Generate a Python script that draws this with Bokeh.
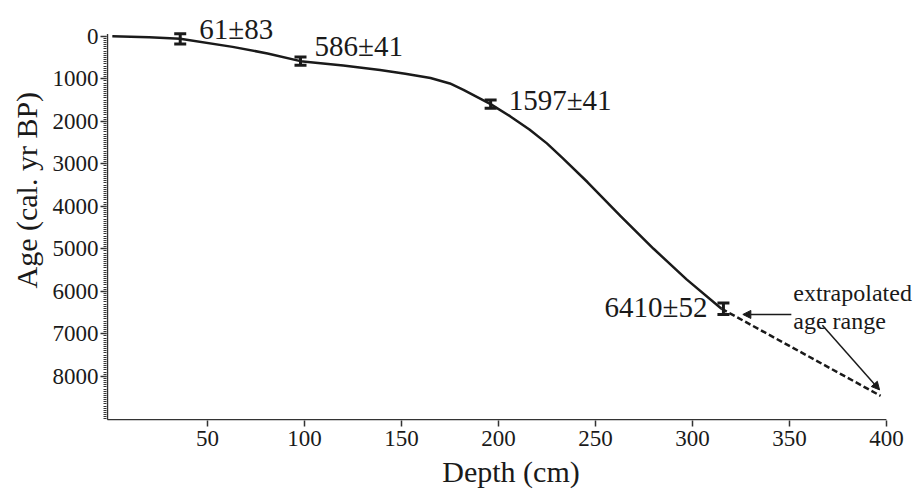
import numpy as np
from bokeh.plotting import figure
from bokeh.models import (Range1d, FixedTicker, ColumnDataSource, Whisker, TeeHead,
                          Label, Arrow, NormalHead, Title)
from bokeh.embed import file_html
from bokeh.resources import INLINE

# ---- data ----
curve_depth = [1, 20, 36, 63, 81, 98, 120, 139, 152, 165, 175, 182, 196, 206, 216, 225, 233, 246, 263, 280, 297, 315]
curve_age = [0, 25, 61, 250, 404, 586, 690, 794, 880, 981, 1110, 1262, 1597, 1880, 2196, 2520, 2860, 3435, 4229, 5000, 5720, 6410]

dated_depth = [36, 98, 196, 316]
dated_age = [61, 586, 1597, 6410]
dated_err_drawn = [120, 95, 95, 135]
dated_labels = ["61\u00b183", "586\u00b141", "1597\u00b141", "6410\u00b152"]

extrap_depth = [315, 397]
extrap_age = [6410, 8460]

x_ticks = [50, 100, 150, 200, 250, 300, 350, 400]
y_ticks = [0, 1000, 2000, 3000, 4000, 5000, 6000, 7000, 8000]

FONT = "Liberation Serif"
INK = "#1a1a1a"
AXC = "#333333"

p = figure(width=916, height=490, output_backend="svg", toolbar_location=None,
           x_range=Range1d(-2, 415), y_range=Range1d(9040, -841),
           min_border_left=106, min_border_right=1, min_border_top=0, min_border_bottom=67)
p.outline_line_color = None
p.grid.visible = False
p.background_fill_color = "white"
p.border_fill_color = "white"

# axes (built-in ticks/labels; axis lines drawn as segments below)
p.xaxis.ticker = FixedTicker(ticks=x_ticks)
p.yaxis.ticker = FixedTicker(ticks=y_ticks, minor_ticks=list(np.arange(0, 9001, 50)))
for ax in (p.xaxis, p.yaxis):
    ax.axis_line_color = None
    ax.major_tick_line_color = AXC
    ax.major_tick_line_width = 1.5
    ax.major_tick_out = 6
    ax.major_tick_in = 0
    ax.major_label_text_font = FONT
    ax.major_label_text_font_size = "23px"
    ax.major_label_text_color = INK
    ax.axis_label_text_font = FONT
    ax.axis_label_text_font_style = "normal"
    ax.axis_label_text_font_size = "30px"
    ax.axis_label_text_color = INK
p.xaxis.minor_tick_line_color = None
p.yaxis.minor_tick_line_color = AXC
p.yaxis.minor_tick_out = 3
p.yaxis.minor_tick_in = 0
p.xaxis.major_label_standoff = 4
p.yaxis.major_label_standoff = 2
p.xaxis.axis_label = "Depth (cm)"
p.xaxis.axis_label_standoff = 6

p.add_layout(Title(text="Age (cal. yr BP)", align="left", offset=132,
                   text_font=FONT, text_font_size="30px", text_font_style="normal",
                   text_color=INK, standoff=14), "left")

# axis lines
p.segment(x0=[-1.5, -1.5], y0=[-50, 9020], x1=[-1.5, 400], y1=[9020, 9020],
          line_color=AXC, line_width=1.5)

# age-depth curve
p.line(curve_depth, curve_age, line_color=INK, line_width=2.5, line_join="round")
# extrapolation
p.line(extrap_depth, extrap_age, line_color=INK, line_width=2.5, line_dash="6 3")

# error bars
src = ColumnDataSource(dict(
    x=dated_depth,
    upper=[a - e for a, e in zip(dated_age, dated_err_drawn)],
    lower=[a + e for a, e in zip(dated_age, dated_err_drawn)],
))
w = Whisker(source=src, base="x", upper="upper", lower="lower", dimension="height",
            line_color=INK, line_width=3,
            upper_head=TeeHead(size=12, line_width=3, line_color=INK),
            lower_head=TeeHead(size=12, line_width=3, line_color=INK))
p.add_layout(w)

# date labels
label_style = [
    dict(x_offset=19, y_offset=10, text_align="left"),
    dict(x_offset=14, y_offset=15, text_align="left"),
    dict(x_offset=18, y_offset=4, text_align="left"),
    dict(x_offset=-16, y_offset=2, text_align="right"),
]
for d, a, t, st in zip(dated_depth, dated_age, dated_labels, label_style):
    p.add_layout(Label(x=d, y=a, text=t, text_font=FONT, text_font_size="29px",
                       text_color=INK, text_baseline="middle", **st))

# annotation text and arrows
p.add_layout(Label(x=352, y=6051, text="extrapolated", text_font=FONT,
                   text_font_size="24px", text_color=INK, text_baseline="alphabetic"))
p.add_layout(Label(x=352, y=6706, text="age range", text_font=FONT,
                   text_font_size="24px", text_color=INK, text_baseline="alphabetic"))
p.add_layout(Arrow(x_start=351, y_start=6545, x_end=326, y_end=6545,
                   line_color=INK, line_width=1.5,
                   end=NormalHead(size=8, fill_color=INK, line_color=INK)))
p.add_layout(Arrow(x_start=367, y_start=6800, x_end=396.5, y_end=8320,
                   line_color=INK, line_width=1.5,
                   end=NormalHead(size=8, fill_color=INK, line_color=INK)))

open("out.html", "w").write(file_html(p, INLINE))
